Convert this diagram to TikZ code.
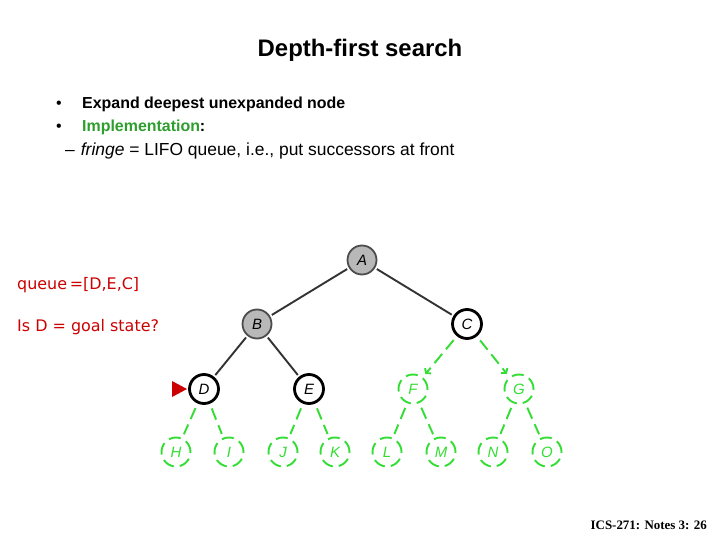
\documentclass[tikz,border=0pt]{standalone}
\usepackage{fontspec}
\setmainfont{Liberation Sans}
\newfontfamily\notefont{DejaVu Sans}
\newfontfamily\footfont{Liberation Serif}
\usetikzlibrary{arrows.meta,positioning}
\definecolor{SearchGreen}{HTML}{33DD33}
\definecolor{LabelGreen}{HTML}{2E9E2E}
\definecolor{NoteRed}{HTML}{CC0000}
\definecolor{NodeGray}{gray}{0.72}
\tikzset{
  slide/.style={x=1bp,y=-1bp,font=\fontsize{17.5}{20}\selectfont},
  treenode/.style={circle,minimum size=29bp,inner sep=0pt,font=\itshape\fontsize{15}{15}\selectfont},
  expanded/.style={treenode,draw=black!70,line width=1.8bp,fill=NodeGray},
  fringenode/.style={treenode,draw=black,line width=2.8bp},
  unseen/.style={treenode,draw=SearchGreen,text=SearchGreen,line width=1.9bp,dash pattern=on 12bp off 6bp},
  treeedge/.style={draw=black!80,line width=1.9bp,shorten <=2bp,shorten >=2bp},
  newedge/.style={draw=SearchGreen,line width=1.9bp,dash pattern=on 12bp off 6bp,shorten <=5bp,shorten >=4bp},
  textline/.style={anchor=base west,inner sep=0pt},
  bullettext/.style={textline,font=\bfseries\fontsize{16}{19}\selectfont},
  notetext/.style={textline,font=\notefont\fontsize{16}{19}\selectfont,text=NoteRed},
}

\begin{document}
\begin{tikzpicture}[slide]
  \useasboundingbox[fill=white] (0,0) rectangle (720,540);

  % heading and bullets
  \node[font=\bfseries\fontsize{24}{28}\selectfont,anchor=base,inner sep=0pt] (title) at (360,57) {Depth-first search};
  \node[textline,font=\fontsize{16}{19}\selectfont] (dot1) at (56,109) {\textbullet};
  \node[bullettext] (line1) at (82,109) {Expand deepest unexpanded node};
  \node[textline,font=\fontsize{16}{19}\selectfont] (dot2) at (56,132) {\textbullet};
  \node[bullettext] (line2) at (82,132) {\textcolor{LabelGreen}{Implementation}:};
  \node[textline] (line3) at (65,156) {--\hspace{6bp}\textit{fringe} = LIFO queue, i.e., put successors at front};

  % notes on the left
  \node[notetext] (queue) at (17,289) {queue\,=[D,E,C]};
  \node[notetext] (goal) at (17,331) {Is D = goal state?};

  % search tree
  \node[expanded] (A) at (362,260) {A};
  \node[expanded] (B) at (257,324) {B};
  \node[fringenode] (C) at (467,324) {C};
  \node[fringenode] (D) at (204,389) {D};
  \node[fringenode] (E) at (309,389) {E};
  \node[unseen] (F) at (413,389) {F};
  \node[unseen] (G) at (519,389) {G};
  \node[unseen] (H) at (176,452) {H};
  \node[unseen] (I) at (229,452) {I};
  \node[unseen] (J) at (283,452) {J};
  \node[unseen] (K) at (335,452) {K};
  \node[unseen] (L) at (387,452) {L};
  \node[unseen] (M) at (441,452) {M};
  \node[unseen] (N) at (493,452) {N};
  \node[unseen] (O) at (547,452) {O};

  \draw[treeedge] (A) -- (B);
  \draw[treeedge] (A) -- (C);
  \draw[treeedge] (B) -- (D);
  \draw[treeedge] (B) -- (E);
  \draw[newedge,-{Straight Barb[length=3bp,width=8bp]}] (C) -- (F);
  \draw[newedge,-{Straight Barb[length=3bp,width=8bp]}] (C) -- (G);
  \foreach \parent/\kid in {D/H,D/I,E/J,E/K,F/L,F/M,G/N,G/O}
    \draw[newedge] (\parent) -- (\kid);

  % current node marker
  \coordinate (tip) at (187,389);
  \fill[NoteRed] (tip) -- ++(-15,-8) -- ++(0,16) -- cycle;

  \node[anchor=base east,inner sep=0pt,font=\footfont\bfseries\fontsize{13}{15}\selectfont] (foot) at (707,529) {ICS-271: Notes 3: 26};
\end{tikzpicture}
\end{document}
